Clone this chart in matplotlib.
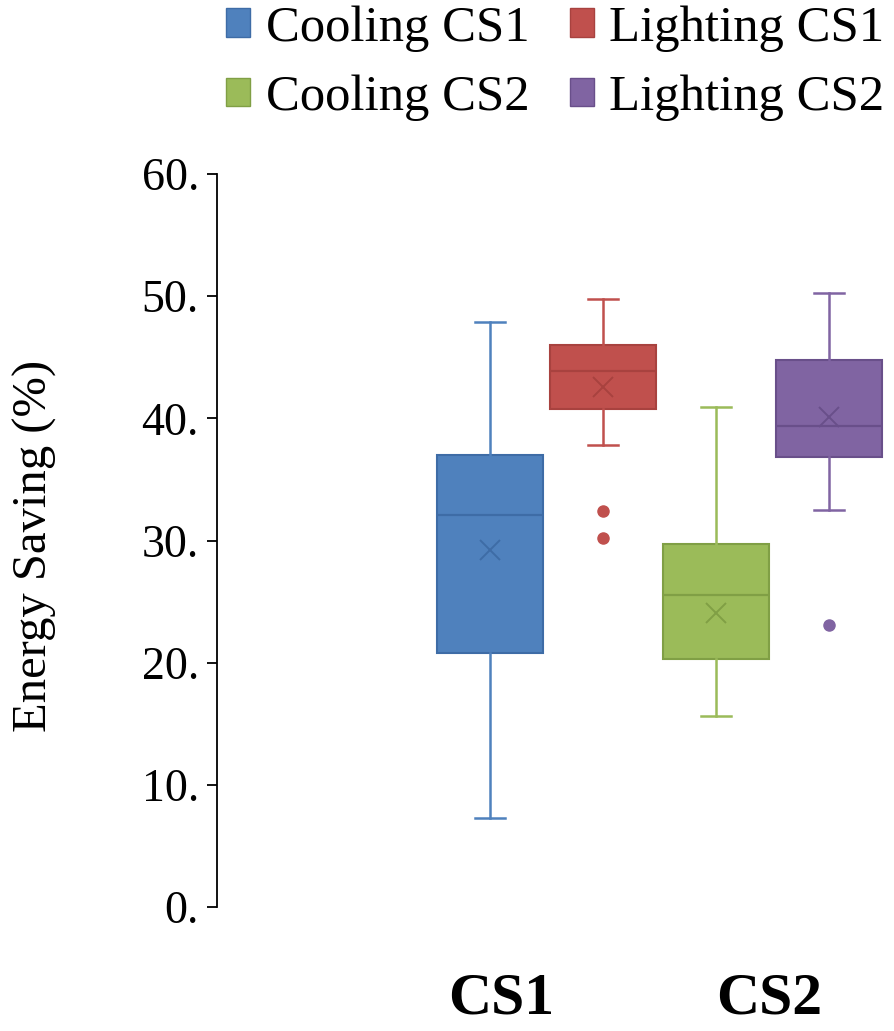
import matplotlib
matplotlib.use("Agg")
import matplotlib.pyplot as plt
from matplotlib.patches import Patch

plt.rcParams['font.family'] = ['Liberation Serif', 'DejaVu Serif']

# ---- data ----
series = ["Cooling CS1", "Lighting CS1", "Cooling CS2", "Lighting CS2"]
whislo = [7.3, 37.8, 15.6, 32.5]
q1     = [20.8, 40.8, 20.3, 36.8]
med    = [32.1, 43.9, 25.5, 39.4]
q3     = [37.0, 46.0, 29.7, 44.8]
whishi = [47.9, 49.8, 40.9, 50.3]
means  = [29.2, 42.6, 24.1, 40.1]
fliers = [[], [32.4, 30.2], [], [23.1]]
group_labels = ["CS1", "CS2"]
yticks = [0, 10, 20, 30, 40, 50, 60]

face  = ["#4F81BD", "#C0504D", "#9BBB59", "#8064A2"]
edge  = ["#3E6CA6", "#A8423F", "#809F45", "#694F8A"]

fig = plt.figure(figsize=(8.95, 10.31), dpi=100)
W, H = 895, 1031
ax = fig.add_axes([217 / W, 1 - 907 / H, (W - 217) / W, (907 - 174) / H])

positions = [1, 2, 3, 4]
for i in range(4):
    st = [dict(whislo=whislo[i], q1=q1[i], med=med[i], q3=q3[i],
               whishi=whishi[i], mean=means[i], fliers=fliers[i], label=series[i])]
    ax.bxp(st, positions=[positions[i]], widths=0.93, capwidths=0.27,
           showmeans=True, patch_artist=True, manage_ticks=False,
           boxprops=dict(facecolor=face[i], edgecolor=edge[i], linewidth=1.5),
           whiskerprops=dict(color=face[i], linewidth=1.8),
           capprops=dict(color=face[i], linewidth=1.8),
           medianprops=dict(color=edge[i], linewidth=1.6),
           meanprops=dict(marker='x', markeredgecolor=edge[i], markersize=15,
                          markeredgewidth=1.4),
           flierprops=dict(marker='o', markerfacecolor=face[i],
                           markeredgecolor=face[i], markersize=8))

ax.set_xlim(1 - 273 / 113, 1 + 405 / 113)
ax.set_ylim(0, 60)
ax.set_yticks(yticks, [f"{t}." for t in yticks])
ax.tick_params(axis='y', direction='out', length=7, width=1.3, pad=6,
               labelsize=33, colors='black')
for s in ['top', 'right', 'bottom']:
    ax.spines[s].set_visible(False)
ax.spines['left'].set_linewidth(1.3)

ax.set_xticks([1.097, 3.47], group_labels)
ax.tick_params(axis='x', length=0, pad=47, labelsize=43)
for lab in ax.get_xticklabels():
    lab.set_fontweight('bold')

ax.set_ylabel("Energy Saving (%)", fontsize=35)
ax.yaxis.set_label_coords(-0.236, 0.4925)

handles = [Patch(facecolor=face[i], edgecolor=edge[i], linewidth=1) for i in range(4)]
order = [0, 2, 1, 3]
fig.legend([handles[k] for k in order], [series[k] for k in order],
           ncol=2, loc='upper left', bbox_to_anchor=(226 / W, 1 - 5 / H),
           frameon=False, fontsize=36.5, handlelength=0.48, handleheight=0.48,
           handletextpad=0.3, columnspacing=0.8, labelspacing=0.45,
           borderpad=0, borderaxespad=0)

fig.savefig("out.png", dpi=100)
